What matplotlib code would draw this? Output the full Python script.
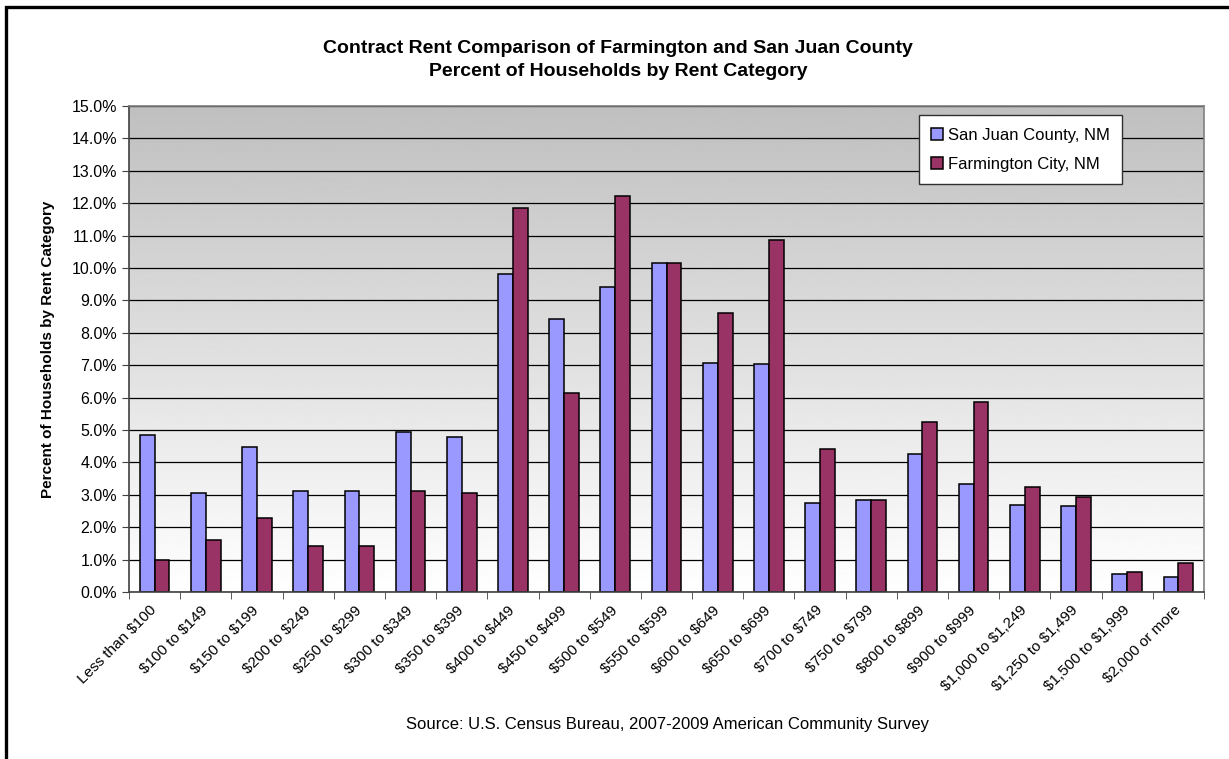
import numpy as np
import matplotlib
matplotlib.use("Agg")
import matplotlib.pyplot as plt
import matplotlib.transforms as mtransforms
from matplotlib.patches import Rectangle
from matplotlib.ticker import FixedLocator, FuncFormatter

plt.rcParams['font.family'] = ['Liberation Sans', 'DejaVu Sans']
plt.rcParams['text.parse_math'] = False

# kategoriler ve degerler (yuzde)
categories = ["Less than $100", "$100 to $149", "$150 to $199", "$200 to $249",
              "$250 to $299", "$300 to $349", "$350 to $399", "$400 to $449",
              "$450 to $499", "$500 to $549", "$550 to $599", "$600 to $649",
              "$650 to $699", "$700 to $749", "$750 to $799", "$800 to $899",
              "$900 to $999", "$1,000 to $1,249", "$1,250 to $1,499",
              "$1,500 to $1,999", "$2,000 or more"]
san_juan = [4.86, 3.07, 4.47, 3.12, 3.13, 4.95, 4.77, 9.80, 8.42, 9.41, 10.15,
            7.06, 7.03, 2.74, 2.85, 4.27, 3.33, 2.69, 2.64, 0.56, 0.46]
farmington = [0.99, 1.61, 2.29, 1.43, 1.41, 3.11, 3.05, 11.86, 6.14, 12.21, 10.15,
              8.61, 10.87, 4.40, 2.85, 5.24, 5.86, 3.25, 2.93, 0.62, 0.89]
series_names = ["San Juan County, NM", "Farmington City, NM"]

fig = plt.figure(figsize=(12.29, 7.59), dpi=100)
ax = fig.add_axes([129/1229, 1 - 592/759, (1204-129)/1229, (592-106)/759])

x = np.arange(len(categories))
w = 0.29

# arka plan: yukarida gri, asagida beyaz
grad = np.linspace(1.0, 0.75, 256).reshape(-1, 1)
ax.imshow(grad, cmap='gray', vmin=0, vmax=1, aspect='auto', origin='lower',
          extent=[0, 1, 0, 1], transform=ax.transAxes, zorder=0)

ax.bar(x - w/2, san_juan, w, color='#9999FF', edgecolor='black', lw=1.1,
       label=series_names[0], zorder=3)
ax.bar(x + w/2, farmington, w, color='#993366', edgecolor='black', lw=1.1,
       label=series_names[1], zorder=3)

ax.set_xlim(-0.5, len(categories) - 0.5)
ax.set_ylim(0, 15)
ax.yaxis.set_major_locator(FixedLocator(np.arange(0, 15.1, 1)))
ax.yaxis.set_major_formatter(FuncFormatter(lambda v, p: f"{v:.1f}%"))
ax.grid(axis='y', color='black', lw=0.9, zorder=1)
ax.set_axisbelow(False)

ax.set_xticks(x)
ax.set_xticklabels(categories, rotation=45, ha='right', rotation_mode='anchor',
                   fontsize=11)
ax.tick_params(axis='x', which='major', length=0, pad=8)
kaydir = mtransforms.ScaledTranslation(-5/100, 0, fig.dpi_scale_trans)
for lbl in ax.get_xticklabels():
    lbl.set_transform(lbl.get_transform() + kaydir)
ax.set_xticks(np.arange(-0.5, len(categories) + 0.5, 1), minor=True)
ax.tick_params(axis='x', which='minor', length=5, direction='out', color='#404040')
ax.tick_params(axis='y', length=5, direction='out', labelsize=11.5, color='#404040')

for s in ['top', 'right']:
    ax.spines[s].set_color('#808080')
for s in ['left', 'bottom']:
    ax.spines[s].set_color('#404040')
for s in ax.spines.values():
    s.set_linewidth(1.2)
    s.set_zorder(4)

ax.set_ylabel("Percent of Households by Rent Category", fontsize=11,
              fontweight='bold', labelpad=12)

leg = ax.legend(loc='upper right', bbox_to_anchor=(0.924, 0.981), fontsize=12,
                fancybox=False, framealpha=1, edgecolor='#303030',
                handlelength=0.7, handleheight=0.7, handletextpad=0.3,
                labelspacing=0.85, borderpad=0.75, borderaxespad=0)
leg.get_frame().set_linewidth(1.0)
leg.set_zorder(5)

fig.text(618/1229, 1 - 60/759, "Contract Rent Comparison of Farmington and San Juan County\n"
         "Percent of Households by Rent Category", ha='center', va='center',
         fontsize=14, fontweight='bold', linespacing=1.45)
fig.text(668/1229, 1 - 725/759,
         "Source: U.S. Census Bureau, 2007-2009 American Community Survey",
         ha='center', va='center', fontsize=12)

# dis cerceve
fig.patches.append(Rectangle((5.5/1229, -0.1), 1.2, 1.1 - 7.5/759, fill=False,
                             lw=2.4, edgecolor='black',
                             transform=fig.transFigure, figure=fig))

fig.savefig("out.png", dpi=100)
